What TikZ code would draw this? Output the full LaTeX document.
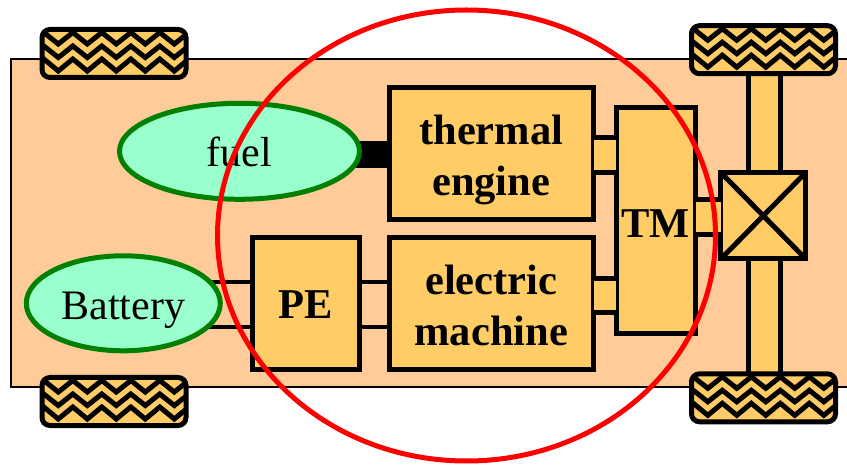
\documentclass[tikz,border=0pt]{standalone}
\usepackage{fontspec}
\setmainfont{Liberation Serif}
\usetikzlibrary{shapes.geometric,calc}
\definecolor{chassis}{HTML}{FFCC99}
\definecolor{part}{HTML}{FFCC66}
\definecolor{store}{HTML}{99FFCC}
\definecolor{storeline}{HTML}{008000}
\definecolor{ringred}{HTML}{FF0000}
\tikzset{
  x=1pt,y=-1pt,
  chassisbox/.style={draw=black,line width=2pt,fill=chassis,rectangle,inner sep=0,outer sep=0},
  partbox/.style={draw=black,line width=5pt,fill=part,rectangle,inner sep=0,outer sep=0,align=center,miter limit=10},
  partlabel/.style={font=\fontsize{42.5}{51.5}\selectfont\bfseries,align=center,inner sep=0,outer sep=0},
  storage/.style={draw=storeline,line width=5pt,fill=store,ellipse,inner sep=0,outer sep=0,font=\fontsize{42}{49}\selectfont},
  wheelbox/.style={rectangle,rounded corners=8pt,inner sep=0,outer sep=0,minimum width=144pt,minimum height=48pt},
  wire/.style={draw=black,line width=4pt},
  shaft/.style={draw=black,line width=5pt},
  tread/.style={draw=black,line width=5pt,miter limit=10},
  ring/.style={draw=ringred,line width=5pt,ellipse,inner sep=0,outer sep=0},
}
\newcommand{\wheelat}[3]{%
  \node[wheelbox,fill=part] (#1) at (#2,#3) {};
  \begin{scope}
    \clip[rounded corners=8pt] (#1.north west) rectangle (#1.south east);
    \foreach \dy/\vy in {3/14.5,16.5/28,29.5/41.5}{
      \draw[tread]
        ($(#1.north west)+(-12.7,\vy)$) -- ++(14.5,\dy-\vy) -- ++(14.5,\vy-\dy) -- ++(14.5,\dy-\vy) -- ++(14.5,\vy-\dy)
        -- ++(14.5,\dy-\vy) -- ++(14.5,\vy-\dy) -- ++(14.5,\dy-\vy) -- ++(14.5,\vy-\dy) -- ++(14.5,\dy-\vy)
        -- ++(14.5,\vy-\dy) -- ++(14.5,\dy-\vy) -- ++(14.5,\vy-\dy);
    }
  \end{scope}
  \node[wheelbox,draw=black,line width=5pt] at (#1) {};
}
\begin{document}
\begin{tikzpicture}
\useasboundingbox (0,0) rectangle (847,465);
\node[chassisbox,minimum width=850pt,minimum height=328pt,anchor=north west] (body) at (11,59) {};
% wheels
\wheelat{wtl}{114}{53.5}
\wheelat{wbl}{114}{401.5}
% axle
\node[partbox,minimum width=32pt,minimum height=348pt] (axle) at (764,224) {};
\wheelat{wtr}{763.5}{49.7}
\wheelat{wbr}{763.5}{397.8}
% connector levels
\coordinate (l1) at (0,138);
\coordinate (l2) at (0,172.5);
\coordinate (l3) at (0,279);
\coordinate (l4) at (0,312.5);
\coordinate (l5) at (0,200);
\coordinate (l6) at (0,234.3);
\coordinate (l7) at (0,282);
\coordinate (l8) at (0,327);
\coordinate (l9) at (0,154.2);
% parts
\node[partbox,minimum width=204.5pt,minimum height=132.5pt] (thermal) at (491.25,153.75) {};
\node[partbox,minimum width=204.5pt,minimum height=132.5pt] (electric) at (491.25,303.75) {};
\node[partbox,minimum width=107pt,minimum height=132.5pt] (pe) at (306,303.75) {};
\node[partbox,minimum width=79.5pt,minimum height=226.5pt] (tm) at (655.75,220.75) {};
\node[partbox,minimum width=85pt,minimum height=86.5pt] (diff) at (763.3,215.75) {};
% storage positions
\coordinate (fuelc) at (239.5,151.3);
\coordinate (battc) at (123.3,303.3);
% connectors
\fill[part] (thermal.east |- l1) rectangle (tm.west |- l2);
\draw[shaft] (thermal.east |- l1) -- (tm.west |- l1);
\draw[shaft] (thermal.east |- l2) -- (tm.west |- l2);
\fill[part] (electric.east |- l3) rectangle (tm.west |- l4);
\draw[shaft] (electric.east |- l3) -- (tm.west |- l3);
\draw[shaft] (electric.east |- l4) -- (tm.west |- l4);
\fill[part] (tm.east |- l5) rectangle (diff.west |- l6);
\draw[shaft] (tm.east |- l5) -- (diff.west |- l5);
\draw[shaft] (tm.east |- l6) -- (diff.west |- l6);
\draw[wire] (pe.east |- l7) -- (electric.west |- l7);
\draw[wire] (pe.east |- l8) -- (electric.west |- l8);
\draw[wire] (battc |- l7) -- (pe.west |- l7);
\draw[wire] (battc |- l8) -- (pe.west |- l8);
\draw[draw=black,line width=27pt] (fuelc |- l9) -- (thermal.west |- l9);
% storage
\node[storage,minimum width=240pt,minimum height=96pt,text height=31.4pt,text depth=0pt] (fuel) at (fuelc) {fuel};
\node[storage,minimum width=194pt,minimum height=95pt,text height=33.4pt,text depth=0pt] (battery) at (battc) {Battery};
% labels
\node[partlabel,yshift=-6.4pt] (thermaltext) at (thermal.center) {thermal\\engine};
\node[partlabel,yshift=-1.5pt] (electrictext) at (electric.center) {electric\\machine};
\node[partlabel,yshift=-1pt] (petext) at (pe.center) {PE};
\node[partlabel,yshift=-3pt] (tmtext) at (tm.center) {TM};
% differential cross
\draw[shaft] (diff.north west) -- (diff.south east);
\draw[shaft] (diff.north east) -- (diff.south west);
% ring
\node[ring,minimum width=498pt,minimum height=451pt] (ringnode) at (466.5,235.5) {};
\end{tikzpicture}
\end{document}
